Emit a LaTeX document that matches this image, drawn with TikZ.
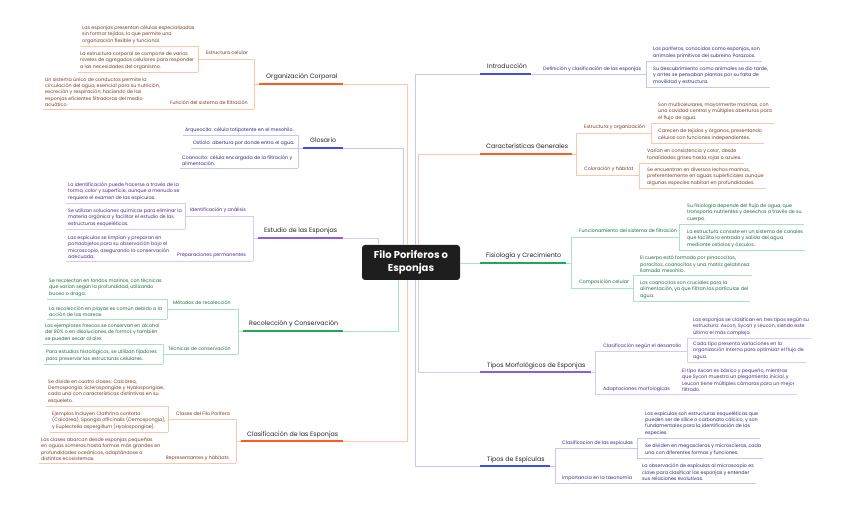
\documentclass[tikz,border=0pt]{standalone}
\usepackage{fontspec}
\setmainfont{Poppins}
\definecolor{orK}{HTML}{FF5A1F}
\definecolor{orL}{HTML}{FFC6AC}
\definecolor{orT}{HTML}{7B3B22}
\definecolor{blK}{HTML}{3D4EEA}
\definecolor{blL}{HTML}{C2C6FA}
\definecolor{blT}{HTML}{2A2A7E}
\definecolor{puK}{HTML}{8E5CE4}
\definecolor{puL}{HTML}{D8CAF7}
\definecolor{puT}{HTML}{4A2A86}
\definecolor{grK}{HTML}{21A65C}
\definecolor{grL}{HTML}{A9E3C4}
\definecolor{grT}{HTML}{1E6A40}
\definecolor{cfill}{HTML}{1E1E1E}
\definecolor{topicc}{HTML}{222222}
\tikzset{
 leaf/.style={font=\fontsize{4.8}{6.2}\selectfont, align=left, inner xsep=2pt, inner ysep=0pt},
 subl/.style={font=\fontsize{4.8}{6}\selectfont, inner sep=0pt},
 topic/.style={font=\fontsize{6.3}{7}\selectfont, inner sep=0pt, text=topicc, anchor=base west},
 oT/.style={text=orT}, oL/.style={draw=orL,line width=0.8pt}, oK/.style={draw=orK,line width=1.7pt},
 bT/.style={text=blT}, bL/.style={draw=blL,line width=0.8pt}, bK/.style={draw=blK,line width=1.7pt},
 pT/.style={text=puT}, pL/.style={draw=puL,line width=0.8pt}, pK/.style={draw=puK,line width=1.7pt},
 gT/.style={text=grT}, gL/.style={draw=grL,line width=0.8pt}, gK/.style={draw=grK,line width=1.7pt},
}
% right-side leaf: name, text x, underline y, bracket x, text, branch
\newcommand\RL[6]{\node[leaf,#6T,anchor=south west] (#1) at (#2-2,#3-2.5) {#5};
  \draw[#6L] (#4,#3) -- (#1.south east |- #4,#3);}
% left-side leaf
\newcommand\LL[6]{\node[leaf,#6T,anchor=south west] (#1) at (#2-2,#3-2.5) {#5};
  \draw[#6L] (#1.south west |- #4,#3) -- (#4,#3);}
\begin{document}
\begin{tikzpicture}[x=1pt,y=-1pt]
\useasboundingbox (0,0) rectangle (848,510);
\node[fill=cfill, rounded corners=3pt, text=white, font=\fontsize{10}{13}\selectfont\bfseries, align=center, minimum width=98pt, minimum height=35pt, inner sep=0pt] (c) at (411,262.5) {Filo Poriferos o\\Esponjas};

% ---------- Organizacion Corporal
\draw[oL] (c.north -| 407,0) |- (254,84);
\draw[oK] (259,84) -- (343,84);
\node[topic] (OC) at (266,79) {Organización Corporal};
\draw[oL] (254,59) -- (254,109);
\draw[oL] (198,59) -- (254,59);
\node[subl,oT,anchor=base east] (ocs1) at (248,55) {Estructura celular};
\draw[oL] (198,46) -- (198,72);
\LL{oc1}{82}{46}{198}{Las esponjas presentan células especializadas\\sin formar tejidos, lo que permite una\\organización flexible y funcional.}{o}
\LL{oc2}{80}{72}{198}{La estructura corporal se compone de varios\\niveles de agregados celulares para responder\\a las necesidades del organismo.}{o}
\node[subl,oT,anchor=base east] (ocs2) at (248,105) {Función del sistema de filtración};
\LL{oc3}{45}{109}{254}{Un sistema único de conductos permite la\\circulación del agua, esencial para su nutrición,\\excreción y respiración, haciendo de las\\esponjas eficientes filtradoras del medio\\acuático.}{o}

% ---------- Glosario
\draw[bL] (c.north -| 403,0) |- (298,148);
\draw[bK] (303,148) -- (343,148);
\node[topic] (GL) at (310,143) {Glosario};
\draw[bL] (298,135) -- (298,168);
\LL{g1}{185}{135}{298}{Arqueocito: célula totipotente en el mesohilo.}{b}
\LL{g2}{193}{148}{298}{Ostíolo: abertura por donde entra el agua.}{b}
\LL{g3}{182}{168}{298}{Coanocito: célula encargada de la filtración y\\alimentación.}{b}

% ---------- Estudio
\draw[pL] (c.north -| 378,0) |- (253,238);
\draw[pK] (258,238) -- (343,238);
\node[topic] (ES) at (264,233) {Estudio de las Esponjas};
\draw[pL] (253,216) -- (253,261);
\draw[pL] (185,216) -- (253,216);
\node[subl,pT,anchor=base east] (ess1) at (246,212) {Identificación y análisis};
\draw[pL] (185,203) -- (185,229);
\LL{e1}{68}{203}{185}{La identificación puede hacerse a través de la\\forma, color y superficie, aunque a menudo se\\requiere el examen de las espículas.}{p}
\LL{e2}{68}{229}{185}{Se utilizan soluciones químicas para eliminar la\\materia orgánica y facilitar el estudio de las\\estructuras esqueléticas.}{p}
\node[subl,pT,anchor=base east] (ess2) at (246,257) {Preparaciones permanentes};
\LL{e3}{68}{261}{253}{Las espículas se limpian y preparan en\\portaobjetos para su observación bajo el\\microscopio, asegurando la conservación\\adecuada.}{p}

% ---------- Recoleccion
\draw[gL] (c.south -| 398,0) |- (238,331);
\draw[gK] (243,331) -- (343,331);
\node[topic] (RC) at (249,326) {Recolección y Conservación};
\draw[gL] (238,309) -- (238,354);
\draw[gL] (167,309) -- (238,309);
\node[subl,gT,anchor=base east] (rcs1) at (231,305) {Métodos de recolección};
\draw[gL] (167,299) -- (167,319);
\LL{r1}{49}{299}{167}{Se recolectan en fondos marinos, con técnicas\\que varían según la profundidad, utilizando\\buceo o draga.}{g}
\LL{r2}{49}{319}{167}{La recolección en playas es común debido a la\\acción de las mareas.}{g}
\draw[gL] (163,354) -- (238,354);
\node[subl,gT,anchor=base east] (rcs2) at (231,350) {Técnicas de conservación};
\draw[gL] (163,344) -- (163,364);
\LL{r3}{45}{344}{163}{Los ejemplares frescos se conservan en alcohol\\del 80\% o en disoluciones de formol, y también\\se pueden secar al aire.}{g}
\LL{r4}{46}{364}{163}{Para estudios histológicos, se utilizan fijadores\\para preservar las estructuras celulares.}{g}

% ---------- Clasificacion
\draw[oL] (c.south -| 407,0) |- (236,441);
\draw[oK] (241,441) -- (343,441);
\node[topic] (CL) at (247,436) {Clasificación de las Esponjas};
\draw[oL] (236,419) -- (236,463);
\draw[oL] (168,419) -- (236,419);
\node[subl,oT,anchor=base east] (cls1) at (230,415) {Clases del Filo Porifera};
\draw[oL] (168,406) -- (168,432);
\LL{k1}{48}{406}{168}{Se divide en cuatro clases: Calcárea,\\Demospongia, Sclerospongiae y Hyalospongiae,\\cada una con características distintivas en su\\esqueleto.}{o}
\LL{k2}{52}{432}{168}{Ejemplos incluyen Clathrina contorta\\(Calcárea), Spongia officinalis (Demospongia),\\y Euplectella aspergillum (Hyalospongiae).}{o}
\node[subl,oT,anchor=base east] (cls2) at (229,459) {Representantes y hábitats};
\LL{k3}{41}{463}{236}{Las clases abarcan desde esponjas pequeñas\\en aguas someras hasta formas más grandes en\\profundidades oceánicas, adaptándose a\\distintos ecosistemas.}{o}

% ---------- Introduccion
\draw[bL] (c.north -| 415,0) |- (646,74);
\draw[bK] (480,74) -- (531,74);
\node[topic] (IN) at (487,69) {Introducción};
\node[subl,bT,anchor=base west] (ins1) at (543,70.5) {Definición y clasificación de las esponjas};
\draw[bL] (646,61) -- (646,87);
\RL{i1}{653}{61}{646}{Los poríferos, conocidos como esponjas, son\\animales primitivos del subreino Parazoos.}{b}
\RL{i2}{653}{87}{646}{Su descubrimiento como animales se dio tarde,\\y antes se pensaban plantas por su falta de\\movilidad y estructura.}{b}

% ---------- Caracteristicas
\draw[oL] (c.north -| 418,0) |- (576,154);
\draw[oK] (480,154) -- (572,154);
\node[topic] (CG) at (486,149) {Características Generales};
\draw[oL] (576,133) -- (576,175);
\draw[oL] (576,133) -- (651,133);
\node[subl,oT,anchor=base west] (cgs1) at (584,129) {Estructura y organización};
\draw[oL] (651,123) -- (651,143);
\RL{c1}{658}{123}{651}{Son multicelulares, mayormente marinas, con\\una cavidad central y múltiples aberturas para\\el flujo de agua.}{o}
\RL{c2}{658}{143}{651}{Carecen de tejidos y órganos, presentando\\células con funciones independientes.}{o}
\draw[oL] (576,175) -- (639,175);
\node[subl,oT,anchor=base west] (cgs2) at (584,171) {Coloración y hábitat};
\draw[oL] (639,163) -- (639,188);
\RL{c3}{647}{163}{639}{Varían en consistencia y color, desde\\tonalidades grises hasta rojas o azules.}{o}
\RL{c4}{647}{188}{639}{Se encuentran en diversos lechos marinos,\\preferentemente en aguas superficiales aunque\\algunas especies habitan en profundidades.}{o}

% ---------- Fisiologia
\draw[gL] (c.east |- 0,263) -- (571,263);
\draw[gK] (480,263) -- (566,263);
\node[topic] (FC) at (486,258) {Fisiología y Crecimiento};
\draw[gL] (571,237) -- (571,288);
\draw[gL] (571,237) -- (679,237);
\node[subl,gT,anchor=base west] (fcs1) at (579,233) {Funcionamiento del sistema de filtración};
\draw[gL] (679,224) -- (679,250);
\RL{f1}{687}{224}{679}{Su fisiología depende del flujo de agua, que\\transporta nutrientes y desechos a través de su\\cuerpo.}{g}
\RL{f2}{687}{250}{679}{La estructura consiste en un sistema de canales\\que facilita la entrada y salida del agua\\mediante ostíolos y ósculos.}{g}
\draw[gL] (571,288) -- (633,288);
\node[subl,gT,anchor=base west] (fcs2) at (579,284) {Composición celular};
\draw[gL] (633,275) -- (633,301);
\RL{f3}{640}{275}{633}{El cuerpo está formado por pinacocitos,\\porocitos, coanocitos y una matriz gelatinosa\\llamada mesohilo.}{g}
\RL{f4}{640}{301}{633}{Los coanocitos son cruciales para la\\alimentación, ya que filtran las partículas del\\agua.}{g}

% ---------- Tipos Morfologicos
\draw[pL] (c.south -| 418,0) |- (595,372);
\draw[pK] (480,372) -- (591,372);
\node[topic] (TM) at (487,367) {Tipos Morfológicos de Esponjas};
\draw[pL] (595,351) -- (595,394);
\draw[pL] (595,351) -- (687,351);
\node[subl,pT,anchor=base west] (tms1) at (603,347) {Clasificación según el desarrollo};
\draw[pL] (687,338) -- (687,362);
\RL{t1}{693}{338}{687}{Las esponjas se clasifican en tres tipos según su\\estructura: Ascon, Sycon y Leucon, siendo este\\último el más complejo.}{p}
\RL{t2}{693}{362}{687}{Cada tipo presenta variaciones en la\\organización interna para optimizar el flujo de\\agua.}{p}
\node[subl,pT,anchor=base west] (tms2) at (603,390) {Adaptaciones morfologicas};
\RL{t3}{682}{394}{595}{El tipo Ascon es básico y pequeño, mientras\\que Sycon muestra un plegamiento inicial, y\\Leucon tiene múltiples cámaras para un mejor\\filtrado.}{p}

% ---------- Tipos de Especulas
\draw[bL] (c.south -| 415,0) |- (555,466);
\draw[bK] (480,466) -- (550,466);
\node[topic] (TE) at (487,461) {Tipos de Espículas};
\draw[bL] (555,448) -- (555,483);
\draw[bL] (555,448) -- (637,448);
\node[subl,bT,anchor=base west] (tes1) at (562,444) {Clasificacion de las espiculas};
\draw[bL] (637,438) -- (637,458);
\RL{s1}{645}{438}{637}{Las espiculas son estructuras esqueléticas que\\pueden ser de sílice o carbonato cálcico, y son\\fundamentales para la identificación de las\\especies.}{b}
\RL{s2}{645}{458}{637}{Se dividen en megascleras y microscleras, cada\\una con diferentes formas y funciones.}{b}
\node[subl,bT,anchor=base west] (tes2) at (562,479) {Importancia en la taxonomía};
\RL{s3}{642}{483}{555}{La observación de espículas al microscopio es\\clave para clasificar las esponjas y entender\\sus relaciones evolutivas.}{b}
\end{tikzpicture}
\end{document}
